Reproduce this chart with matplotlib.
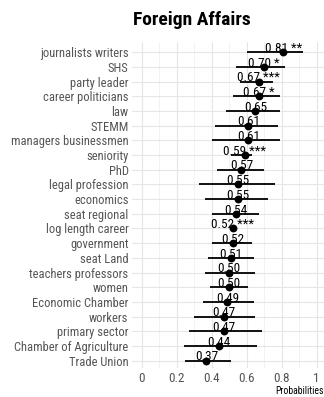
import matplotlib
matplotlib.use("Agg")
import matplotlib.pyplot as plt
from matplotlib import font_manager
from matplotlib.ticker import MultipleLocator

names = {f.name for f in font_manager.fontManager.ttflist}
FONT = "Roboto Condensed" if "Roboto Condensed" in names else "Roboto"

categories = [
    "journalists writers", "SHS", "party leader", "career politicians", "law",
    "STEMM", "managers businessmen", "seniority", "PhD", "legal profession",
    "economics", "seat regional", "log length career", "government",
    "seat Land", "teachers professors", "women", "Economic Chamber",
    "workers", "primary sector", "Chamber of Agriculture", "Trade Union",
]
estimates = [0.81, 0.70, 0.67, 0.67, 0.65, 0.61, 0.61, 0.59, 0.57, 0.55, 0.55,
             0.54, 0.52, 0.52, 0.51, 0.50, 0.50, 0.49, 0.47, 0.47, 0.44, 0.37]
ci_low = [0.60, 0.54, 0.56, 0.52, 0.48, 0.42, 0.40, 0.51, 0.43, 0.33, 0.36,
          0.40, 0.51, 0.40, 0.38, 0.36, 0.39, 0.35, 0.30, 0.27, 0.24, 0.25]
ci_high = [0.92, 0.82, 0.75, 0.79, 0.79, 0.78, 0.79, 0.63, 0.70, 0.76, 0.72,
           0.67, 0.535, 0.63, 0.64, 0.65, 0.61, 0.64, 0.65, 0.69, 0.66, 0.51]
stars = ["**", "*", "***", "*", "", "", "", "***", "", "", "", "", "***",
         "", "", "", "", "", "", "", "", ""]
x_ticks = [0, 0.2, 0.4, 0.6, 0.8, 1]
x_tick_labels = ["0", "0.2", "0.4", "0.6", "0.8", "1"]

W, H = 324, 397
fig = plt.figure(figsize=(W / 100, H / 100), dpi=100)
left, right, top, bottom = 132, 324, 42, 368
ax = fig.add_axes([left / W, 1 - bottom / H, (right - left) / W, (bottom - top) / H])

n = len(categories)
ypos = [n - 1 - i for i in range(n)]

ax.hlines(ypos, ci_low, ci_high, color="black", linewidth=1.3, zorder=3)
ax.scatter(estimates, ypos, s=32, color="black", zorder=4, linewidths=0)
for y, v, s in zip(ypos, estimates, stars):
    label = f"{v:.2f}" + (f" {s}" if s else "")
    ax.text(v, y + 0.02, label, ha="center", va="baseline", fontsize=9.5,
            family=FONT, color="black", zorder=5)

ax.set_xlim(-0.055, 1.042)
ax.set_ylim(-0.5, n - 0.3)
ax.set_yticks(ypos)
ax.set_yticklabels(categories)
ax.set_xticks(x_ticks)
ax.set_xticklabels(x_tick_labels)
ax.xaxis.set_minor_locator(MultipleLocator(0.1))

ax.grid(True, which="major", color="#e6e6e6", linewidth=0.8)
ax.grid(True, which="minor", axis="x", color="#f0f0f0", linewidth=0.6)
ax.set_axisbelow(True)
for sp in ax.spines.values():
    sp.set_visible(False)
ax.tick_params(axis="both", which="both", length=0)
ax.tick_params(axis="y", pad=2.5, labelsize=9, labelcolor="#555555")
ax.tick_params(axis="x", pad=3, labelsize=9.5, labelcolor="#555555")
for lab in ax.get_xticklabels() + ax.get_yticklabels():
    lab.set_family(FONT)

fig.text(192 / W, 1 - 20 / H, "Foreign Affairs", ha="center", va="center",
         fontsize=14, fontweight="bold", family=FONT, color="black")
fig.text(324 / W, 1 - 391 / H, "Probabilities", ha="right", va="center",
         fontsize=7, family=FONT, color="black")

fig.savefig("out.png", dpi=100)
